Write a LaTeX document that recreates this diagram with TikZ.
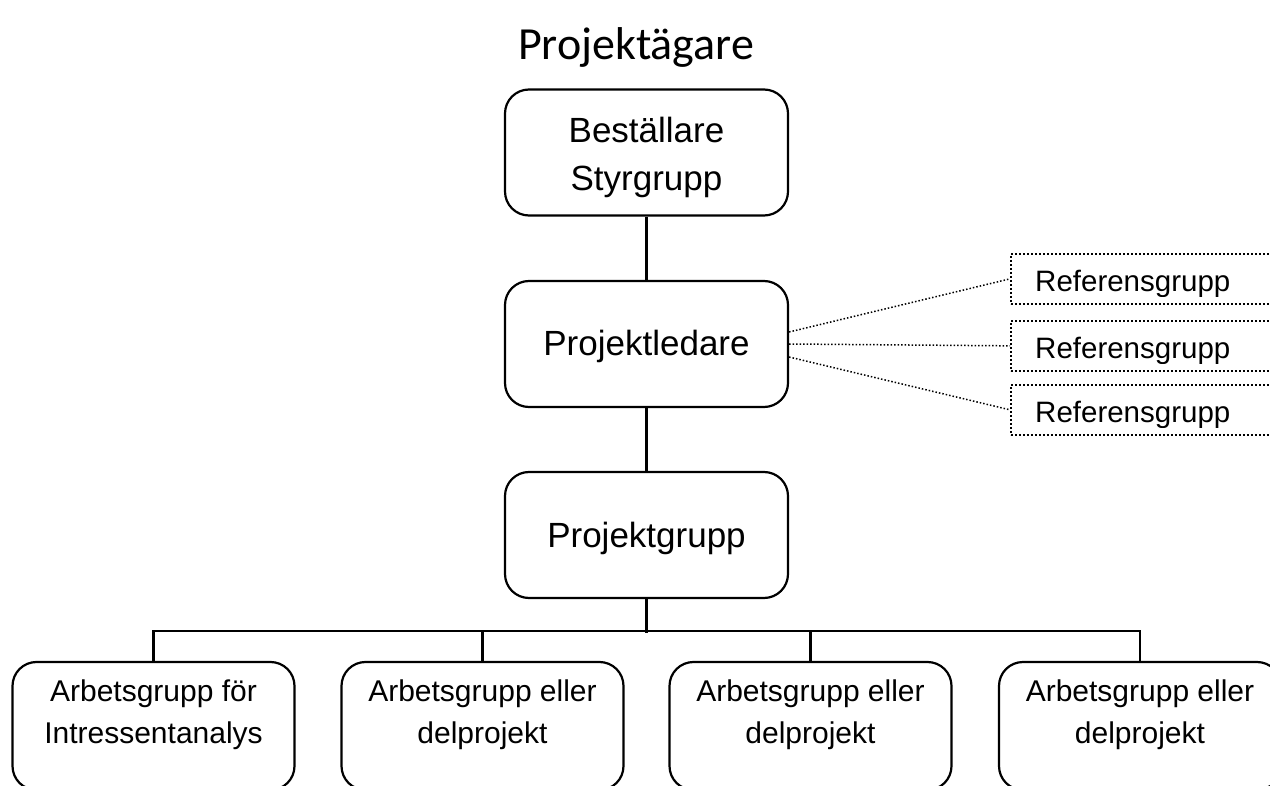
\documentclass[tikz,border=0pt]{standalone}
\usepackage{fontspec}
\setmainfont{Liberation Sans}
\newfontfamily\titlefont{Carlito}
\begin{document}
\begin{tikzpicture}[x=1pt,y=-1pt,
  box/.style={draw, line width=2.2pt, rounded corners=24pt, minimum width=283pt,
    minimum height=126pt, inner sep=0pt, align=center, text height=25pt,
    font=\fontsize{35}{48}\selectfont},
  wbox/.style={draw, line width=2.2pt, rounded corners=24pt, minimum width=282pt,
    minimum height=128pt, inner sep=0pt, align=center, text height=64pt, text depth=30pt,
    font=\fontsize{30}{42}\selectfont},
  refbox/.style={draw, line width=1.7pt, dash pattern=on 1.7pt off 2.3pt,
    minimum width=280pt, minimum height=50pt, anchor=north west, inner sep=0pt},
  reftext/.style={anchor=base west, inner sep=0pt, font=\fontsize{29.5}{34}\selectfont},
  conn/.style={line width=2.4pt},
  dotline/.style={line width=1.5pt, dash pattern=on 1.5pt off 2pt}]
\useasboundingbox (0,0) rectangle (1270,786);
\fill[white] (0,0) rectangle (1270,786);
\clip (0,0) rectangle (1270,786);

\node[anchor=base, inner sep=0pt, font=\titlefont\fontsize{46}{50}\selectfont] (title) at (636,60) {Projektägare};

\node[box, text height=77pt, text depth=0pt] (bs) at (646.5,152.5) {Beställare\\Styrgrupp};
\node[box, text depth=1pt] (pl) at (646.5,344) {Projektledare};
\node[box, text depth=1pt] (pg) at (646.5,535) {Projektgrupp};

\node[wbox] (w1) at (153.5,726) {Arbetsgrupp för\\Intressentanalys};
\node[wbox] (w2) at (482.5,726) {Arbetsgrupp eller\\delprojekt};
\node[wbox] (w3) at (810.5,726) {Arbetsgrupp eller\\delprojekt};
\node[wbox] (w4) at (1140,726) {Arbetsgrupp eller\\delprojekt};

\draw[conn] (bs) -- (pl);
\draw[conn] (pl) -- (pg);
\draw[conn] (pg.south) -- ++(0,34) coordinate (bus);
\draw[conn] (w1.north) -- ++(0,-30) -| (w4.north);
\draw[conn] (w2.north) -- ++(0,-30);
\draw[conn] (w3.north) -- ++(0,-30);

\node[refbox] (r1) at (1010,253) {};
\node[refbox] (r2) at (1010,320) {};
\node[refbox] (r3) at (1010,384) {};
\begin{scope}
\clip (r1.north west) rectangle ([yshift=8pt]r1.south east);
\node[reftext] (t1) at (1035,292) {Referensgrupp};
\end{scope}
\begin{scope}
\clip (r2.north west) rectangle ([yshift=8pt]r2.south east);
\node[reftext] (t2) at (1035,359) {Referensgrupp};
\end{scope}
\begin{scope}
\clip (r3.north west) rectangle ([yshift=8pt]r3.south east);
\node[reftext] (t3) at (1035,423) {Referensgrupp};
\end{scope}

\draw[dotline] ([yshift=12pt]pl.east) -- (r1.west);
\draw[dotline] (pl.east) -- (r2.west);
\draw[dotline] ([yshift=-13pt]pl.east) -- (r3.west);
\end{tikzpicture}
\end{document}
